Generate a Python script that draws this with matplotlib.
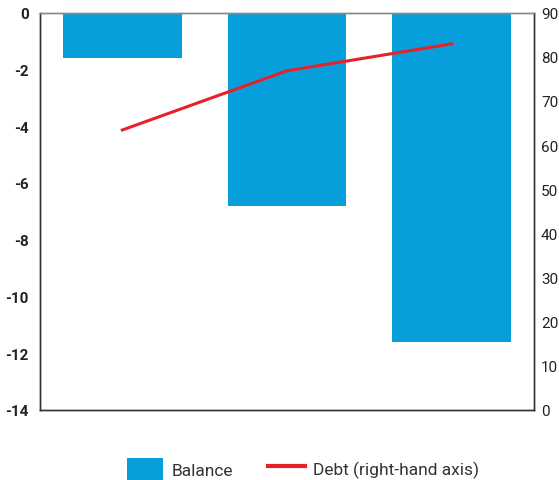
import matplotlib
matplotlib.use("Agg")
import matplotlib.pyplot as plt
from matplotlib.patches import Patch
from matplotlib.lines import Line2D

categories = ["A", "B", "C"]
balance = [-1.6, -6.8, -11.6]
debt = [63.4, 76.8, 82.9]
left_ticks = [0, -2, -4, -6, -8, -10, -12, -14]
right_ticks = [0, 10, 20, 30, 40, 50, 60, 70, 80, 90]

bar_color = "#069FDB"
line_color = "#E8202A"

plt.rcParams['font.family'] = ['Roboto', 'DejaVu Sans']

fig = plt.figure(figsize=(5.59, 4.81), dpi=100)
ax = fig.add_axes([40/559, 1-411/481, 494/559, (411-13.5)/481])
x = list(range(len(categories)))
ax.bar(x, balance, width=0.72, color=bar_color, zorder=2)
ax.set_ylim(-14, 0)
ax.set_xlim(-0.5, 2.5)
ax.set_yticks(left_ticks)
ax.set_yticklabels([str(t) for t in left_ticks], fontweight='bold', fontsize=11, color='#222222')
ax.set_xticks([])
ax.tick_params(axis='y', length=0, pad=8)

ax2 = ax.twinx()
ax2.plot(x, debt, color=line_color, lw=2.2, zorder=3)
ax2.set_ylim(0, 90)
ax2.set_yticks(right_ticks)
ax2.set_yticklabels([str(t) for t in right_ticks], fontsize=11, color='#222222')
ax2.tick_params(axis='y', length=0, pad=5)

for a in (ax, ax2):
    for s in ['left', 'right', 'bottom']:
        a.spines[s].set_color('#333333')
        a.spines[s].set_linewidth(1.0)
    a.spines['top'].set_color('#888888')
    a.spines['top'].set_linewidth(1.0)

handles = [Patch(facecolor=bar_color, edgecolor='none', label='Balance'),
           Line2D([0], [0], color=line_color, lw=3, label='Debt (right-hand axis)')]
fig.legend(handles=handles, loc='lower center', bbox_to_anchor=(0.542, -0.032), ncol=2,
           frameon=False, fontsize=12.5, handlelength=2.1, handleheight=1.55,
           columnspacing=2.0, handletextpad=0.5, labelcolor='#333333')

fig.savefig("out.png", dpi=100)
